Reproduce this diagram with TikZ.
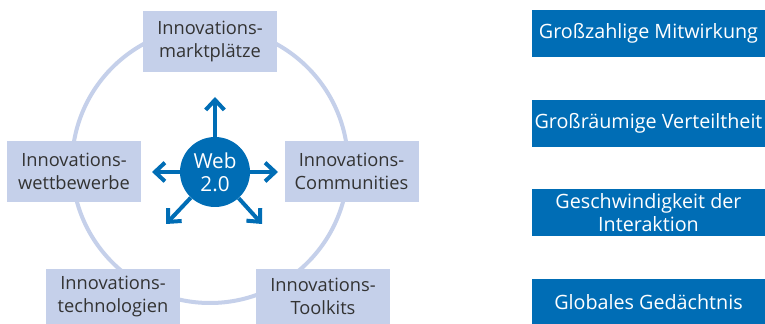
\documentclass[tikz,border=0pt]{standalone}
\usepackage{fontspec}
\setmainfont{Open Sans}
\usepackage{tikz}
\usetikzlibrary{arrows.meta, positioning}
\definecolor{ringblue}{HTML}{C5D0EA}
\definecolor{webblue}{HTML}{006DB5}
\definecolor{textgray}{HTML}{333333}

\begin{document}
\begin{tikzpicture}[x=0.75pt, y=-0.75pt]
\tikzstyle{field} = [rectangle, fill=ringblue, text=textgray, align=center, minimum width=100.5pt, minimum height=45.75pt, inner sep=0pt, font=\fontsize{13.7}{17}\selectfont]
\tikzstyle{feature} = [rectangle, fill=webblue, text=white, align=center, minimum width=174.75pt, minimum height=35.25pt, inner sep=0pt, font=\fontsize{14.8}{17}\selectfont]
\tikzstyle{spoke} = [webblue, line width=3pt, -{Straight Barb[length=7.5pt, width=14pt]}]

\useasboundingbox (0,0) rectangle (765,324);

% ring behind the fields
\draw[ringblue, line width=3pt] (210,165) circle [radius=103.5pt];

\node (markt) [field] at (210,41.5) {Innovations-\\marktplätze};
\node (wett) [field] at (74,171.5) {Innovations-\\wettbewerbe};
\node (comm) [field] at (351.5,171.5) {Innovations-\\Communities};
\node (tech) [field, minimum height=41.25pt] at (113,296.5) {Innovations-\\technologien};
\node (tool) [field, minimum height=41.25pt] at (323,296.5) {Innovations-\\Toolkits};

% Web 2.0 hub with its spokes
\node (web) [circle, fill=webblue, text=white, minimum size=52.5pt, inner sep=0pt, align=center, font=\fontsize{15.5}{17}\selectfont] at (215,172) {Web\\2.0};
\coordinate (tipN) at (215,97);
\coordinate (tipW) at (152,172);
\coordinate (tipE) at (278,172);
\coordinate (tipSW) at (166,224);
\coordinate (tipSE) at (262,224);
\foreach \t in {tipN, tipW, tipE, tipSW, tipSE}
  \draw[spoke] (web) -- (\t);

% features of Web 2.0
\node (gross) [feature] at (648.5,33.5) {Großzahlige Mitwirkung};
\node (raum) [feature, below=31.5pt of gross] {Großräumige Verteiltheit};
\node (speed) [feature, below=31.5pt of raum] {Geschwindigkeit der\\Interaktion};
\node (memory) [feature, below=31.5pt of speed] {Globales Gedächtnis};

\end{tikzpicture}
\end{document}
